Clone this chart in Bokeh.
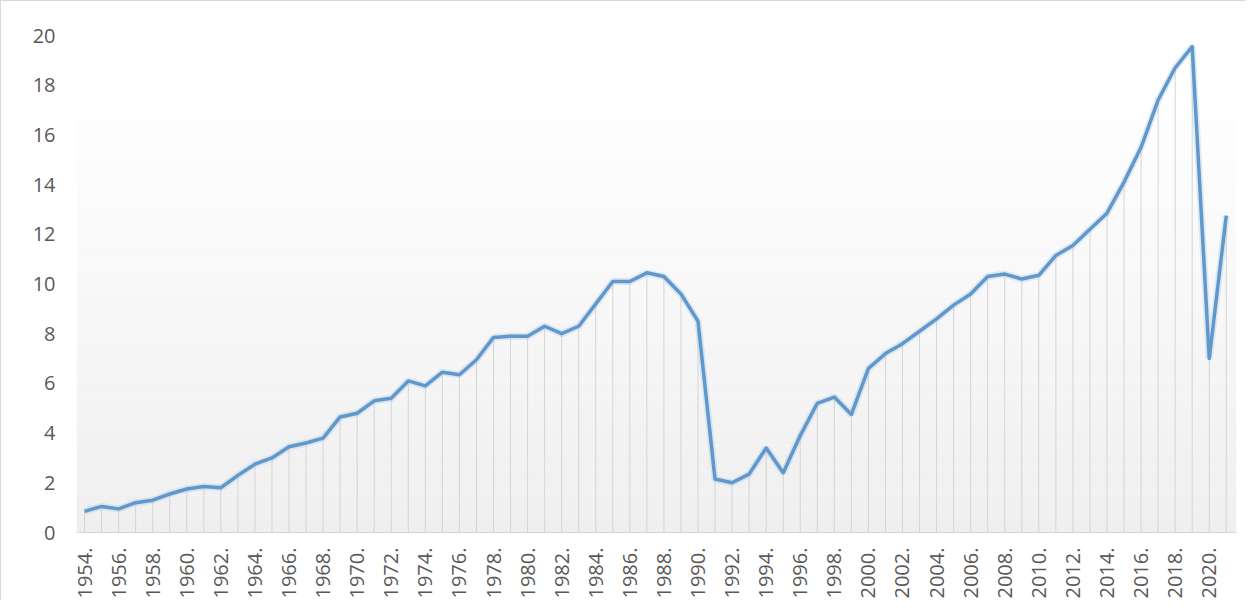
import numpy as np
from bokeh.plotting import figure
from bokeh.models import Range1d, FixedTicker, BoxAnnotation
from bokeh.embed import file_html
from bokeh.resources import INLINE

years = list(range(1954, 2022))
values = [0.85, 1.05, 0.95, 1.2, 1.3, 1.55, 1.75, 1.85, 1.8, 2.3,
          2.75, 3.0, 3.45, 3.6, 3.8, 4.65, 4.8, 5.3, 5.4, 6.1,
          5.9, 6.45, 6.35, 6.95, 7.85, 7.9, 7.9, 8.3, 8.0, 8.3,
          9.2, 10.1, 10.1, 10.45, 10.3, 9.6, 8.5, 2.15, 2.0, 2.35,
          3.4, 2.4, 3.9, 5.2, 5.45, 4.75, 6.6, 7.2, 7.6, 8.1,
          8.6, 9.15, 9.6, 10.3, 10.4, 10.2, 10.35, 11.15, 11.55, 12.2,
          12.85, 14.1, 15.5, 17.4, 18.7, 19.55, 7.0, 12.75]
x_ticks = list(range(1954, 2021, 2))
x_tick_labels = {t: f"{t}." for t in x_ticks}
y_ticks = list(range(0, 21, 2))

FONT = "Open Sans"
TXT = "#595959"

p = figure(width=1245, height=600, output_backend="svg", toolbar_location=None,
           x_range=Range1d(1953.53, 2021.6), y_range=Range1d(0, 20),
           min_border_left=75, min_border_right=10, min_border_top=34, min_border_bottom=68)
p.styles = {"border-top": "1px solid #d9d9d9", "border-left": "1px solid #d9d9d9"}
p.outline_line_color = None
p.background_fill_color = "white"
p.border_fill_color = "white"
p.xgrid.visible = False
p.ygrid.visible = False

# soft vertical gradient in the plot area
edges = np.linspace(0, 18, 37)
for i in range(len(edges) - 1):
    t = 1 - (edges[i] + edges[i + 1]) / 2 / 18.0
    c = int(round(255 - 16 * t))
    p.add_layout(BoxAnnotation(bottom=edges[i], top=edges[i + 1],
                               fill_color=f"#{c:02x}{c:02x}{c:02x}", fill_alpha=1,
                               line_color=None, level="underlay"))

p.segment(x0=years, y0=[0] * len(years), x1=years, y1=values,
          line_color="#d4d4d4", line_width=1)
p.line(years, values, line_color="#a9c9e8", line_width=7, line_alpha=0.35)
p.line(years, values, line_color="#6098cc", line_width=3.5, line_join="round")

xa = p.xaxis[0]
xa.ticker = FixedTicker(ticks=x_ticks)
xa.major_label_overrides = x_tick_labels
xa.major_label_orientation = np.pi / 2
xa.major_label_text_font = FONT
xa.major_label_text_font_size = "20px"
xa.major_label_text_color = TXT
xa.major_tick_line_color = None
xa.minor_tick_line_color = None
xa.axis_line_color = "#d9d9d9"
xa.major_label_standoff = 9

ya = p.yaxis[0]
ya.ticker = FixedTicker(ticks=y_ticks)
ya.major_label_text_font = FONT
ya.major_label_text_font_size = "20px"
ya.major_label_text_color = TXT
ya.major_tick_line_color = None
ya.minor_tick_line_color = None
ya.axis_line_color = None
ya.major_label_standoff = 15

open("out.html", "w").write(file_html(p, INLINE))
